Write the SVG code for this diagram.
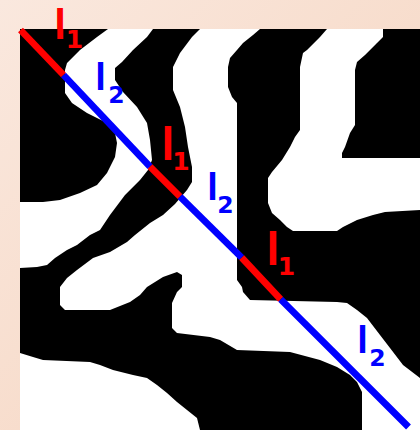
<svg xmlns="http://www.w3.org/2000/svg" width="420" height="430" viewBox="0 0 420 430">
<defs>
<linearGradient id="bg" x1="0" y1="0" x2="1" y2="1">
<stop offset="0" stop-color="#fae8de"/>
<stop offset="1" stop-color="#f5d3bd"/>
</linearGradient>
</defs>
<style>
.blk{fill:#000}
.seg{stroke-width:6.8;stroke-linecap:butt;fill:none}
.r{stroke:#ff0000}
.b{stroke:#0000ff}
.l{font-family:"Liberation Sans",Arial,sans-serif;font-weight:bold;text-anchor:middle}
.d{font-family:"DejaVu Sans",sans-serif;font-weight:bold;text-anchor:middle}
.tr{fill:#ff0000}
.tb{fill:#0000ff}
</style>
<rect id="background" x="0" y="0" width="420" height="430" fill="url(#bg)"/>
<g id="micrograph">
<rect x="20" y="29" width="400" height="401" fill="#fff"/>
<path id="black-top-left" class="blk" d="M20,29 L108,29 L97,37 L80,50 L67,63 L65,70 L65,93 L72,103 L87,113 L107,123 L115,133 L117,143 L115,157 L107,173 L97,185 L80,193 L60,200 L43,202 L20,202 Z"/>
<path id="black-central" class="blk" d="M153,29 L200,29 L192,37 L180,53 L173,67 L173,90 L180,107 L185,127 L188,147 L192,167 L192,182 L187,190 L175,204 L163,215 L150,223 L135,235 L127,242 L110,252 L93,258 L77,270 L67,278 L60,287 L60,305 L65,310 L110,310 L130,302 L140,295 L147,287 L163,277 L177,272 L182,275 L182,287 L177,292 L172,303 L172,328 L177,333 L210,337 L220,340 L237,350 L290,352 L320,360 L337,367 L350,375 L357,382 L362,392 L362,430 L200,430 L197,418 L187,410 L177,402 L167,393 L157,385 L147,378 L133,375 L113,370 L100,365 L90,362 L43,360 L33,357 L20,353 L20,268 L37,267 L47,265 L55,258 L67,250 L77,245 L90,235 L100,230 L110,215 L125,195 L140,180 L148,170 L152,160 L150,140 L147,123 L137,107 L123,92 L115,80 L115,68 L122,62 L133,50 L147,37 Z"/>
<path id="black-right-band" class="blk" d="M260,29 L327,29 L320,37 L307,50 L303,53 L300,67 L300,130 L295,137 L290,147 L282,160 L272,172 L268,178 L268,203 L272,213 L280,220 L287,227 L293,231 L337,231 L343,227 L357,220 L373,215 L385,212 L420,210 L420,378 L403,365 L390,348 L380,335 L367,318 L357,310 L347,303 L337,302 L250,300 L243,292 L242,287 L237,280 L237,103 L232,97 L228,87 L228,67 L230,58 L237,50 L243,43 L253,35 Z"/>
<path id="black-top-right" class="blk" d="M383,29 L420,29 L420,158 L342,158 L342,153 L345,147 L350,133 L355,125 L355,70 L357,62 L365,55 L377,43 L383,37 Z"/>
</g>
<g id="connectors">
<line class="seg r" x1="20.5" y1="30" x2="63.5" y2="75"/>
<line class="seg b" x1="63.5" y1="75" x2="150" y2="166.7"/>
<line class="seg r" x1="150" y1="166.7" x2="180" y2="196.7"/>
<line class="seg b" x1="180" y1="196.7" x2="241.7" y2="257.7"/>
<line class="seg r" x1="241.7" y1="257.7" x2="280.7" y2="299.3"/>
<line class="seg b" x1="280.7" y1="299.3" x2="408.5" y2="427"/>
</g>
<g id="label-l1-a"><text class="l tr" x="60" y="38.5" font-size="42">l</text><text class="d tr" x="74.5" y="48" font-size="25">1</text></g>
<g id="label-l2-a"><text class="l tb" x="100.5" y="90" font-size="38">l</text><text class="d tb" x="116.5" y="103" font-size="23.5">2</text></g>
<g id="label-l1-b"><text class="l tr" x="168" y="160" font-size="46">l</text><text class="d tr" x="181" y="170" font-size="25">1</text></g>
<g id="label-l2-b"><text class="l tb" x="212.5" y="200" font-size="38">l</text><text class="d tb" x="225.5" y="213" font-size="23.5">2</text></g>
<g id="label-l1-c"><text class="l tr" x="273" y="265" font-size="46">l</text><text class="d tr" x="286.5" y="275" font-size="25">1</text></g>
<g id="label-l2-c"><text class="l tb" x="362.5" y="353" font-size="38">l</text><text class="d tb" x="377.5" y="366" font-size="23.5">2</text></g>
</svg>
